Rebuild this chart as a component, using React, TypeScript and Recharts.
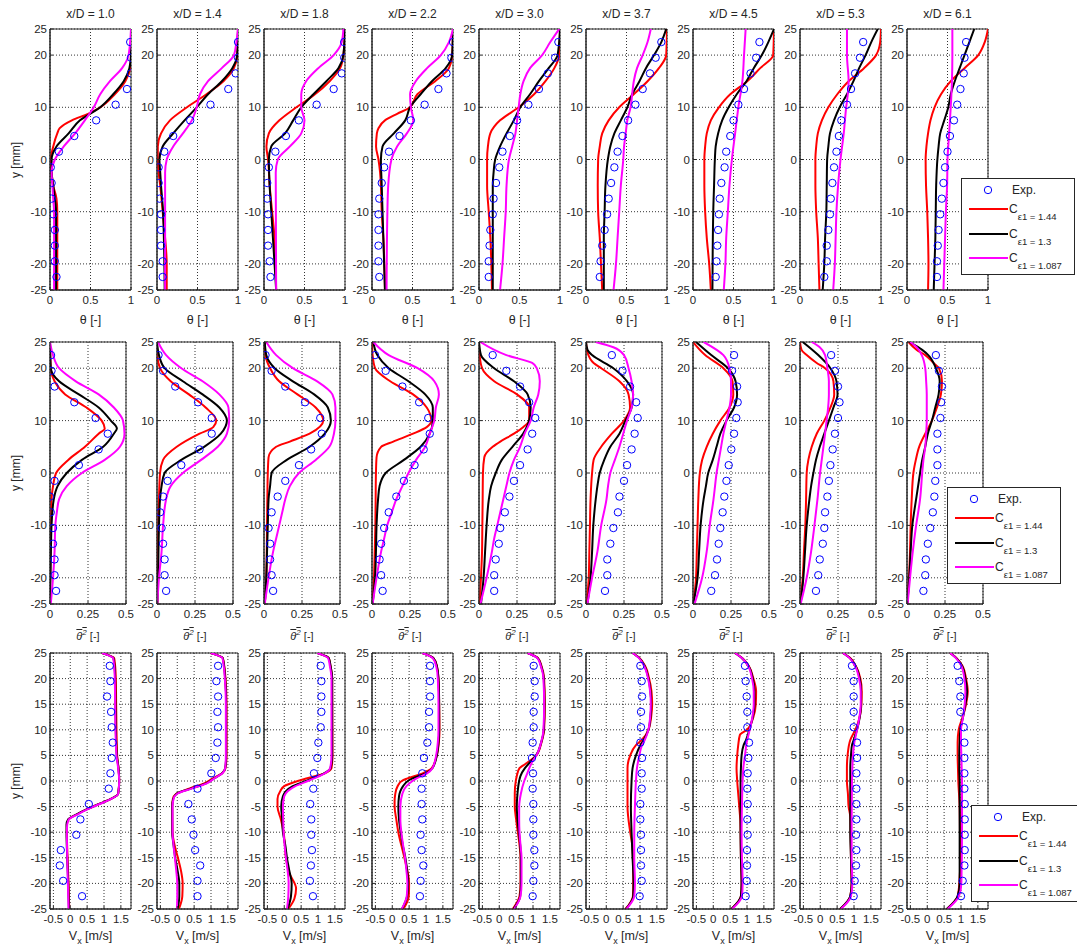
import React from "react";
import {
  ComposedChart,
  Line,
  Scatter,
  XAxis,
  YAxis,
  CartesianGrid,
  ReferenceArea,
} from "recharts";

// [y, x] knots, listed from top (y = 25 mm) to bottom (y = -25 mm)
type Knot = [number, number];

const STATIONS = ["1.0", "1.4", "1.8", "2.2", "3.0", "3.7", "4.5", "5.3", "6.1"];
const Y_EXP = [22.5, 19.5, 16.5, 13.5, 10.5, 7.5, 4.5, 1.5, -1.5, -4.5, -7.5, -10.5, -13.5, -16.5, -19.5, -22.5];
const Y_TICKS_COARSE = [-25, -20, -10, 0, 10, 20, 25];
const Y_TICKS_FINE = [-25, -20, -15, -10, -5, 0, 5, 10, 15, 20, 25];
const CASES = ["1.44", "1.3", "1.087"];
const CASE_COLORS = ["#ff0000", "#000000", "#ff00ff"];

// ---- row 1: mean temperature theta [-]
const THETA_EXP = [
  [0.99, 1.0, 1.0, 0.95, 0.81, 0.57, 0.3, 0.11, 0.01, 0.02, 0.02, 0.04, 0.06, 0.06, 0.06, 0.08],
  [1.0, 1.0, 0.97, 0.88, 0.66, 0.41, 0.2, 0.09, 0.02, 0.02, 0.03, 0.05, 0.05, 0.05, 0.07, 0.07],
  [0.99, 0.99, 0.96, 0.86, 0.65, 0.43, 0.27, 0.14, 0.06, 0.04, 0.04, 0.05, 0.05, 0.05, 0.07, 0.08],
  [1.0, 0.98, 0.92, 0.82, 0.65, 0.48, 0.34, 0.21, 0.15, 0.12, 0.09, 0.08, 0.08, 0.08, 0.08, 0.09],
  [0.98, 0.94, 0.85, 0.74, 0.61, 0.47, 0.38, 0.29, 0.25, 0.21, 0.18, 0.17, 0.14, 0.13, 0.12, 0.12],
  [0.93, 0.86, 0.79, 0.7, 0.61, 0.52, 0.45, 0.39, 0.35, 0.31, 0.28, 0.26, 0.23, 0.2, 0.18, 0.17],
  [0.82, 0.78, 0.71, 0.63, 0.56, 0.5, 0.46, 0.41, 0.39, 0.35, 0.33, 0.32, 0.31, 0.3, 0.29, 0.28],
  [0.78, 0.74, 0.68, 0.63, 0.58, 0.51, 0.48, 0.45, 0.42, 0.4, 0.38, 0.37, 0.35, 0.33, 0.33, 0.3],
  [0.73, 0.71, 0.7, 0.66, 0.62, 0.58, 0.53, 0.5, 0.47, 0.45, 0.43, 0.41, 0.39, 0.38, 0.37, 0.37],
];
const THETA_C144: Knot[][] = [
  [[25, 1], [20, 1], [17.5, 0.99], [15, 0.93], [12.5, 0.8], [10, 0.62], [8.75, 0.47], [7.5, 0.27], [6, 0.12], [5, 0.09], [2.5, 0.04], [0, 0.01], [-2.5, 0.02], [-5, 0.04], [-7.5, 0.08], [-10, 0.09], [-25, 0.09]],
  [[25, 1], [20, 0.99], [17.5, 0.95], [15, 0.82], [12.5, 0.61], [10, 0.37], [7.5, 0.16], [5, 0.05], [2.5, 0.01], [0, 0.01], [-2.5, 0.02], [-5, 0.04], [-10, 0.07], [-15, 0.1], [-20, 0.12], [-25, 0.12]],
  [[25, 1], [20, 0.98], [17.5, 0.94], [15, 0.81], [12.5, 0.63], [10, 0.4], [7.5, 0.19], [5, 0.06], [2.5, 0.03], [0, 0.05], [-5, 0.07], [-10, 0.1], [-15, 0.13], [-25, 0.15]],
  [[25, 1], [20, 0.99], [17.5, 0.95], [15, 0.78], [12.5, 0.56], [10, 0.47], [8.75, 0.31], [7.5, 0.16], [6, 0.08], [5, 0.06], [2.5, 0.05], [0, 0.08], [-2.5, 0.1], [-5, 0.11], [-10, 0.12], [-15, 0.14], [-25, 0.16]],
  [[25, 1], [20, 0.99], [17.5, 0.93], [15, 0.82], [12.5, 0.68], [10, 0.49], [7.5, 0.26], [5, 0.14], [2.5, 0.11], [0, 0.1], [-5, 0.1], [-10, 0.12], [-15, 0.14], [-25, 0.16]],
  [[25, 1], [20, 0.99], [17.5, 0.9], [15, 0.76], [12.5, 0.59], [10, 0.41], [7.5, 0.28], [5, 0.2], [2.5, 0.17], [0, 0.15], [-5, 0.145], [-10, 0.15], [-15, 0.17], [-20, 0.185], [-25, 0.2]],
  [[25, 1], [20, 0.99], [17.5, 0.83], [15, 0.67], [12.5, 0.46], [10, 0.32], [7.5, 0.22], [5, 0.17], [2.5, 0.15], [0, 0.14], [-5, 0.14], [-10, 0.15], [-15, 0.17], [-20, 0.2], [-25, 0.22]],
  [[25, 1], [22.5, 0.99], [20, 0.94], [17.5, 0.79], [15, 0.6], [12.5, 0.46], [10, 0.35], [7.5, 0.27], [5, 0.22], [2.5, 0.2], [0, 0.19], [-5, 0.19], [-10, 0.2], [-15, 0.22], [-20, 0.23], [-25, 0.24]],
  [[25, 1], [22.5, 0.96], [20, 0.88], [17.5, 0.71], [15, 0.54], [12.5, 0.42], [10, 0.34], [7.5, 0.29], [5, 0.26], [2.5, 0.24], [0, 0.23], [-5, 0.235], [-10, 0.25], [-15, 0.26], [-20, 0.265], [-25, 0.26]],
];
const THETA_C13: Knot[][] = [
  [[25, 1], [20, 1], [17.5, 0.98], [15, 0.91], [12.5, 0.78], [10, 0.62], [7.5, 0.37], [5, 0.23], [2.5, 0.08], [0, 0.02], [-2.5, 0.02], [-5, 0.04], [-7.5, 0.06], [-10, 0.075], [-25, 0.075]],
  [[25, 1], [20, 0.99], [17.5, 0.93], [15, 0.8], [12.5, 0.63], [10, 0.49], [7.5, 0.34], [5, 0.2], [2.5, 0.07], [0, 0.03], [-2.5, 0.04], [-5, 0.05], [-10, 0.075], [-25, 0.095]],
  [[25, 1], [20, 0.98], [17.5, 0.92], [15, 0.77], [12.5, 0.61], [10, 0.46], [7.5, 0.36], [5, 0.26], [2.5, 0.09], [0, 0.06], [-5, 0.07], [-10, 0.09], [-15, 0.11], [-25, 0.15]],
  [[25, 1], [20, 0.99], [17.5, 0.91], [15, 0.74], [12.5, 0.6], [10, 0.47], [7.5, 0.41], [5, 0.27], [2.5, 0.13], [0, 0.11], [-5, 0.12], [-10, 0.13], [-15, 0.14], [-25, 0.16]],
  [[25, 1], [20, 0.97], [17.5, 0.86], [15, 0.74], [12.5, 0.63], [10, 0.51], [7.5, 0.43], [5, 0.34], [2.5, 0.26], [0, 0.2], [-2.5, 0.18], [-5, 0.17], [-25, 0.17]],
  [[25, 0.99], [22.5, 0.93], [20, 0.84], [17.5, 0.74], [15, 0.66], [12.5, 0.57], [10, 0.51], [7.5, 0.43], [5, 0.35], [2.5, 0.3], [0, 0.27], [-5, 0.24], [-10, 0.23], [-15, 0.22], [-25, 0.22]],
  [[25, 1], [22.5, 0.93], [20, 0.85], [17.5, 0.75], [15, 0.66], [12.5, 0.54], [10, 0.44], [7.5, 0.36], [5, 0.31], [2.5, 0.28], [0, 0.27], [-5, 0.26], [-10, 0.25], [-25, 0.24]],
  [[25, 0.96], [22.5, 0.88], [20, 0.81], [17.5, 0.73], [15, 0.66], [12.5, 0.58], [10, 0.49], [7.5, 0.42], [5, 0.37], [2.5, 0.35], [0, 0.335], [-5, 0.33], [-10, 0.325], [-15, 0.31], [-20, 0.3], [-25, 0.28]],
  [[25, 0.83], [22.5, 0.77], [20, 0.71], [17.5, 0.65], [15, 0.59], [12.5, 0.54], [10, 0.51], [7.5, 0.46], [5, 0.41], [2.5, 0.39], [0, 0.375], [-5, 0.36], [-10, 0.355], [-15, 0.35], [-20, 0.34], [-25, 0.33]],
];
const THETA_C1087: Knot[][] = [
  [[25, 1], [20, 0.97], [17.5, 0.89], [15, 0.74], [12.5, 0.62], [10, 0.54], [7.5, 0.43], [5, 0.31], [2.5, 0.17], [0, 0.06], [-2.5, 0.02], [-5, 0.03], [-7.5, 0.04], [-10, 0.05], [-25, 0.05]],
  [[25, 1], [22.5, 0.98], [20, 0.95], [17.5, 0.8], [15, 0.63], [12.5, 0.53], [10, 0.49], [7.5, 0.43], [5, 0.32], [2.5, 0.2], [0, 0.12], [-2.5, 0.1], [-25, 0.1]],
  [[25, 0.98], [22.5, 0.96], [20, 0.86], [17.5, 0.67], [15, 0.52], [12.5, 0.46], [10, 0.46], [7.5, 0.5], [5, 0.46], [2.5, 0.32], [0, 0.17], [-2.5, 0.145], [-25, 0.15]],
  [[25, 1], [22.5, 0.95], [20, 0.85], [17.5, 0.68], [15, 0.54], [12.5, 0.47], [10, 0.48], [7.5, 0.51], [5, 0.43], [2.5, 0.31], [0, 0.24], [-5, 0.2], [-10, 0.19], [-25, 0.18]],
  [[25, 0.99], [22.5, 0.88], [20, 0.78], [17.5, 0.63], [15, 0.55], [12.5, 0.51], [10, 0.49], [7.5, 0.47], [5, 0.45], [2.5, 0.41], [0, 0.37], [-5, 0.34], [-10, 0.33], [-15, 0.31], [-20, 0.29], [-25, 0.26]],
  [[25, 0.8], [22.5, 0.76], [20, 0.7], [17.5, 0.63], [15, 0.59], [12.5, 0.57], [10, 0.55], [7.5, 0.51], [5, 0.49], [2.5, 0.47], [0, 0.46], [-5, 0.43], [-10, 0.41], [-15, 0.39], [-20, 0.37], [-25, 0.34]],
  [[25, 0.65], [20, 0.63], [15, 0.61], [10, 0.56], [5, 0.52], [0, 0.48], [-5, 0.45], [-10, 0.43], [-15, 0.41], [-20, 0.4], [-25, 0.38]],
  [[25, 0.58], [20, 0.58], [15, 0.6], [12.5, 0.59], [10, 0.57], [5, 0.54], [0, 0.5], [-5, 0.47], [-10, 0.45], [-15, 0.44], [-20, 0.43], [-25, 0.41]],
  [[25, 0.56], [20, 0.56], [15, 0.555], [10, 0.54], [5, 0.52], [0, 0.5], [-5, 0.495], [-10, 0.48], [-15, 0.47], [-20, 0.46], [-25, 0.45]],
];

// ---- row 2: temperature variance [-]
const VAR_EXP = [
  [0.007, 0.01, 0.03, 0.16, 0.3, 0.38, 0.32, 0.19, 0.03, 0.0, 0.005, 0.02, 0.02, 0.03, 0.03, 0.04],
  [0.01, 0.04, 0.12, 0.27, 0.36, 0.36, 0.28, 0.16, 0.07, 0.04, 0.02, 0.03, 0.04, 0.05, 0.05, 0.06],
  [0.01, 0.05, 0.14, 0.27, 0.37, 0.38, 0.31, 0.23, 0.14, 0.09, 0.05, 0.03, 0.04, 0.04, 0.05, 0.06],
  [0.02, 0.09, 0.2, 0.31, 0.37, 0.38, 0.34, 0.28, 0.21, 0.16, 0.11, 0.08, 0.06, 0.05, 0.06, 0.07],
  [0.09, 0.18, 0.27, 0.33, 0.37, 0.35, 0.32, 0.27, 0.23, 0.2, 0.17, 0.14, 0.13, 0.11, 0.1, 0.1],
  [0.17, 0.24, 0.29, 0.33, 0.34, 0.32, 0.3, 0.27, 0.25, 0.22, 0.21, 0.18, 0.16, 0.14, 0.14, 0.125],
  [0.27, 0.257, 0.29, 0.294, 0.285, 0.27, 0.252, 0.235, 0.22, 0.206, 0.195, 0.18, 0.169, 0.158, 0.145, 0.12],
  [0.205, 0.23, 0.25, 0.26, 0.25, 0.23, 0.215, 0.2, 0.19, 0.18, 0.165, 0.16, 0.15, 0.13, 0.12, 0.105],
  [0.19, 0.21, 0.23, 0.225, 0.22, 0.2, 0.2, 0.2, 0.186, 0.18, 0.17, 0.153, 0.137, 0.124, 0.12, 0.108],
];
const VAR_C144: Knot[][] = [
  [[25, 0], [20, 0.005], [17.5, 0.03], [15, 0.1], [12.5, 0.24], [10, 0.34], [8.5, 0.36], [7.5, 0.32], [5, 0.23], [2.5, 0.12], [0, 0.04], [-2.5, 0.02], [-5, 0.01], [-10, 0.007], [-15, 0.003], [-25, 0]],
  [[25, 0], [22.5, 0.002], [20, 0.02], [17.5, 0.09], [15, 0.21], [12.5, 0.32], [10, 0.39], [8.75, 0.37], [7.5, 0.28], [5, 0.13], [2.5, 0.04], [0, 0.02], [-5, 0.013], [-10, 0.009], [-15, 0.005], [-25, 0.002]],
  [[25, 0.005], [22.5, 0.01], [20, 0.04], [17.5, 0.1], [15, 0.22], [12.5, 0.34], [10, 0.39], [7.5, 0.3], [6, 0.17], [5, 0.08], [3, 0.03], [0, 0.025], [-5, 0.022], [-10, 0.02], [-20, 0.015], [-25, 0.005]],
  [[25, 0], [22.5, 0.004], [20, 0.02], [17.5, 0.12], [15, 0.27], [12.5, 0.36], [10, 0.39], [8.75, 0.36], [7.5, 0.27], [6, 0.14], [5, 0.06], [3, 0.03], [0, 0.026], [-5, 0.024], [-10, 0.022], [-15, 0.018], [-20, 0.013], [-25, 0.004]],
  [[25, 0], [22.5, 0.004], [20, 0.02], [17.5, 0.1], [15, 0.25], [12.5, 0.33], [10, 0.33], [8.75, 0.29], [7.5, 0.23], [6, 0.14], [5, 0.09], [3, 0.035], [0, 0.026], [-5, 0.024], [-10, 0.022], [-15, 0.02], [-20, 0.013], [-25, 0.004]],
  [[25, 0], [23, 0.01], [21, 0.05], [20, 0.1], [17.5, 0.22], [15, 0.28], [12.5, 0.29], [10, 0.25], [7.5, 0.17], [5, 0.1], [2.5, 0.05], [0, 0.04], [-5, 0.03], [-10, 0.026], [-15, 0.022], [-20, 0.018], [-25, 0.004]],
  [[25, 0], [22.5, 0.08], [20, 0.2], [17.5, 0.26], [15, 0.265], [12.5, 0.24], [10, 0.18], [7.5, 0.13], [5, 0.09], [2.5, 0.06], [0, 0.045], [-5, 0.035], [-10, 0.03], [-15, 0.025], [-20, 0.02], [-25, 0.002]],
  [[25, 0], [23.5, 0.01], [22.5, 0.044], [21, 0.11], [20, 0.165], [17.5, 0.22], [15, 0.225], [12.5, 0.2], [10, 0.16], [7.5, 0.11], [5, 0.077], [2.5, 0.055], [0, 0.044], [-5, 0.04], [-10, 0.035], [-15, 0.026], [-20, 0.018], [-25, 0.002]],
  [[25, 0.01], [23.5, 0.064], [22.5, 0.12], [21, 0.175], [20, 0.21], [17.5, 0.23], [15, 0.223], [12.5, 0.197], [10, 0.164], [7.5, 0.12], [5, 0.08], [2.5, 0.058], [0, 0.042], [-5, 0.031], [-10, 0.024], [-15, 0.02], [-20, 0.013], [-25, 0.002]],
];
const VAR_C13: Knot[][] = [
  [[25, 0], [20, 0.005], [17.5, 0.06], [15, 0.19], [12.5, 0.32], [10, 0.4], [8.5, 0.44], [7.5, 0.42], [5, 0.35], [2.5, 0.21], [0, 0.11], [-2.5, 0.05], [-5, 0.025], [-10, 0.01], [-15, 0.006], [-20, 0.003], [-25, 0]],
  [[25, 0], [22.5, 0.013], [20, 0.05], [17.5, 0.17], [15, 0.3], [12.5, 0.41], [10, 0.46], [7.5, 0.42], [5, 0.31], [2.5, 0.16], [0, 0.05], [-2.5, 0.03], [-5, 0.02], [-10, 0.013], [-20, 0.007], [-25, 0.002]],
  [[25, 0.005], [22.5, 0.015], [20, 0.07], [17.5, 0.19], [15, 0.33], [12.5, 0.42], [10, 0.44], [7.5, 0.4], [5, 0.3], [2.5, 0.15], [0, 0.05], [-2.5, 0.04], [-5, 0.03], [-10, 0.025], [-15, 0.02], [-20, 0.015], [-25, 0.005]],
  [[25, 0.009], [22.5, 0.035], [20, 0.11], [17.5, 0.24], [15, 0.35], [12.5, 0.4], [10, 0.4], [7.5, 0.38], [5, 0.32], [2.5, 0.21], [0, 0.09], [-2.5, 0.05], [-5, 0.04], [-10, 0.03], [-15, 0.026], [-20, 0.02], [-25, 0.004]],
  [[25, 0], [22.5, 0.013], [20, 0.1], [17.5, 0.23], [15, 0.32], [12.5, 0.34], [10, 0.33], [7.5, 0.29], [5, 0.22], [2.5, 0.15], [0, 0.11], [-2.5, 0.08], [-5, 0.065], [-10, 0.05], [-15, 0.04], [-20, 0.03], [-25, 0.013]],
  [[25, 0], [23.5, 0.01], [22.5, 0.04], [20, 0.18], [17.5, 0.27], [15, 0.31], [12.5, 0.3], [10, 0.26], [7.5, 0.22], [5, 0.16], [2.5, 0.12], [0, 0.09], [-2.5, 0.075], [-5, 0.064], [-10, 0.048], [-15, 0.04], [-20, 0.03], [-25, 0.009]],
  [[25, 0.02], [22.5, 0.12], [20, 0.23], [17.5, 0.28], [15, 0.29], [12.5, 0.27], [10, 0.22], [7.5, 0.18], [5, 0.155], [2.5, 0.13], [0, 0.1], [-2.5, 0.085], [-5, 0.07], [-10, 0.05], [-15, 0.04], [-20, 0.03], [-25, 0.002]],
  [[25, 0.018], [22.5, 0.12], [20, 0.2], [17.5, 0.24], [15, 0.247], [12.5, 0.22], [10, 0.19], [7.5, 0.16], [5, 0.13], [2.5, 0.105], [0, 0.088], [-2.5, 0.073], [-5, 0.062], [-10, 0.044], [-15, 0.033], [-20, 0.022], [-25, 0.004]],
  [[25, 0.015], [23.5, 0.1], [22.5, 0.14], [20, 0.19], [17.5, 0.215], [15, 0.208], [12.5, 0.186], [10, 0.164], [7.5, 0.137], [5, 0.12], [2.5, 0.1], [0, 0.086], [-5, 0.06], [-10, 0.035], [-15, 0.024], [-20, 0.015], [-25, 0.002]],
];
const VAR_C1087: Knot[][] = [
  [[25, 0], [22.5, 0.02], [20, 0.06], [17.5, 0.17], [15, 0.32], [12.5, 0.42], [10, 0.48], [7.5, 0.49], [5, 0.46], [2.5, 0.36], [0, 0.21], [-2.5, 0.11], [-5, 0.06], [-7.5, 0.045], [-10, 0.035], [-15, 0.03], [-20, 0.02], [-25, 0.005]],
  [[25, 0.007], [22.5, 0.06], [20, 0.16], [17.5, 0.3], [15, 0.41], [12.5, 0.47], [10, 0.475], [7.5, 0.46], [5, 0.4], [2.5, 0.29], [0, 0.17], [-2.5, 0.09], [-5, 0.06], [-10, 0.04], [-15, 0.03], [-20, 0.013], [-25, 0.002]],
  [[25, 0.015], [22.5, 0.08], [20, 0.19], [17.5, 0.35], [15, 0.45], [12.5, 0.47], [10, 0.47], [7.5, 0.46], [5, 0.43], [2.5, 0.34], [0, 0.23], [-2.5, 0.17], [-5, 0.14], [-7.5, 0.12], [-10, 0.1], [-12.5, 0.08], [-15, 0.06], [-20, 0.03], [-25, 0.005]],
  [[25, 0.009], [22.5, 0.11], [20, 0.3], [17.5, 0.41], [15, 0.44], [12.5, 0.42], [10, 0.41], [7.5, 0.38], [5, 0.35], [2.5, 0.29], [0, 0.24], [-2.5, 0.2], [-5, 0.16], [-7.5, 0.13], [-10, 0.1], [-12.5, 0.08], [-15, 0.06], [-20, 0.03], [-25, 0.004]],
  [[25, 0.009], [22.5, 0.18], [21, 0.35], [20, 0.38], [17.5, 0.4], [15, 0.39], [12.5, 0.36], [10, 0.34], [7.5, 0.3], [5, 0.27], [2.5, 0.23], [0, 0.2], [-2.5, 0.18], [-5, 0.16], [-7.5, 0.14], [-10, 0.12], [-12.5, 0.1], [-15, 0.085], [-20, 0.05], [-25, 0.009]],
  [[25, 0.064], [24, 0.18], [22.5, 0.25], [20, 0.28], [17.5, 0.3], [15, 0.31], [12.5, 0.3], [10, 0.27], [7.5, 0.245], [5, 0.22], [2.5, 0.19], [0, 0.16], [-2.5, 0.145], [-5, 0.135], [-10, 0.1], [-15, 0.075], [-20, 0.04], [-25, 0.009]],
  [[25, 0.07], [22.5, 0.2], [20, 0.24], [17.5, 0.25], [15, 0.25], [12.5, 0.24], [10, 0.22], [7.5, 0.2], [5, 0.185], [2.5, 0.17], [0, 0.155], [-2.5, 0.145], [-5, 0.135], [-10, 0.11], [-15, 0.09], [-20, 0.06], [-25, 0.01]],
  [[25, 0.077], [24, 0.13], [22.5, 0.165], [20, 0.18], [17.5, 0.19], [15, 0.19], [12.5, 0.185], [10, 0.175], [7.5, 0.165], [5, 0.154], [2.5, 0.143], [0, 0.132], [-5, 0.115], [-10, 0.095], [-15, 0.073], [-20, 0.044], [-25, 0.004]],
  [[25, 0.02], [24, 0.064], [22.5, 0.097], [20, 0.12], [17.5, 0.126], [15, 0.13], [12.5, 0.13], [10, 0.13], [7.5, 0.126], [5, 0.12], [2.5, 0.108], [0, 0.1], [-5, 0.086], [-10, 0.06], [-15, 0.038], [-20, 0.02], [-25, 0.004]],
];

// ---- row 3: axial velocity Vx [m/s]
const VX_EXP = [
  [1.17, 1.19, 1.09, 1.21, 1.23, 1.26, 1.23, 1.19, 1.14, 0.55, 0.3, 0.18, -0.28, -0.31, -0.21, 0.35],
  [1.21, 1.16, 1.21, 1.19, 1.21, 1.19, 1.14, 1.01, 0.6, 0.33, 0.43, 0.48, 0.53, 0.68, 0.6, 0.6],
  [1.08, 1.1, 1.1, 1.1, 1.08, 1.01, 0.98, 0.88, 0.86, 0.77, 0.8, 0.8, 0.82, 0.79, 0.76, 0.85],
  [1.12, 1.12, 1.12, 1.09, 1.09, 1.04, 0.94, 0.89, 0.87, 0.87, 0.89, 0.84, 0.87, 0.92, 0.84, 0.82],
  [1.02, 1.05, 1.05, 1.02, 1.02, 0.99, 0.97, 1.0, 0.99, 1.01, 1.01, 1.01, 1.04, 1.04, 1.01, 0.99],
  [1.01, 1.05, 1.06, 1.03, 1.03, 1.01, 1.06, 1.05, 1.05, 1.01, 1.01, 1.03, 1.03, 1.03, 1.05, 0.99],
  [0.94, 0.96, 0.99, 1.01, 1.01, 1.06, 1.04, 1.02, 1.01, 1.02, 1.01, 1.02, 1.0, 1.0, 0.99, 0.96],
  [0.94, 0.99, 0.99, 0.99, 0.99, 1.09, 1.09, 1.07, 1.07, 1.07, 1.07, 1.06, 1.07, 1.06, 1.02, 0.99],
  [0.9, 0.95, 0.98, 0.98, 1.08, 1.1, 1.1, 1.1, 1.1, 1.11, 1.11, 1.11, 1.11, 1.1, 1.05, 1.0],
];
const VX_C144: Knot[][] = [
  [[25, 0.94], [24, 1.3], [22.5, 1.33], [20, 1.35], [15, 1.36], [10, 1.37], [5, 1.39], [2.5, 1.43], [0, 1.45], [-2.5, 1.42], [-3.5, 1.2], [-4.5, 0.85], [-5.5, 0.5], [-6.5, 0.2], [-7.5, -0.05], [-8.5, -0.1], [-10, -0.1], [-15, -0.08], [-20, -0.05], [-25, -0.03]],
  [[25, 0.99], [24, 1.35], [20, 1.43], [15, 1.46], [5, 1.46], [2.5, 1.43], [1.5, 1.33], [0.5, 1.05], [-0.5, 0.78], [-1.5, 0.35], [-2.5, -0.03], [-3.5, -0.13], [-5, -0.15], [-10, -0.14], [-12.5, -0.08], [-15, 0.02], [-17.5, 0.11], [-20, 0.16], [-22.5, 0.15], [-25, 0.05]],
  [[25, 0.98], [24, 1.32], [22.5, 1.37], [20, 1.42], [5, 1.43], [2.5, 1.4], [1.5, 1.2], [0.5, 0.65], [0, 0.4], [-1, 0.0], [-2, -0.12], [-3.5, -0.2], [-5, -0.2], [-7.5, -0.1], [-10, -0.02], [-12.5, 0.02], [-15, 0.05], [-18, 0.15], [-21, 0.35], [-23, 0.3], [-25, 0.12]],
  [[25, 0.89], [24, 1.22], [22.5, 1.32], [20, 1.37], [15, 1.39], [10, 1.4], [7.5, 1.38], [5, 1.32], [2.5, 1.17], [1.5, 0.9], [0.5, 0.45], [0, 0.28], [-1, 0.16], [-2.5, 0.09], [-4, 0.07], [-5, 0.07], [-7.5, 0.12], [-10, 0.18], [-15, 0.36], [-20, 0.5], [-22.5, 0.49], [-25, 0.33]],
  [[25, 0.84], [24, 1.15], [22.5, 1.25], [20, 1.33], [15, 1.35], [10, 1.33], [7.5, 1.25], [5, 1.1], [4, 0.92], [3, 0.7], [2.5, 0.6], [1, 0.52], [0, 0.49], [-2.5, 0.46], [-5, 0.46], [-7.5, 0.5], [-10, 0.55], [-12.5, 0.6], [-15, 0.63], [-20, 0.63], [-22.5, 0.6], [-25, 0.4]],
  [[25, 0.78], [24, 0.99], [22.5, 1.15], [20, 1.27], [17.5, 1.34], [15, 1.36], [12.5, 1.33], [10, 1.25], [8, 1.05], [7, 0.88], [5, 0.71], [2.5, 0.63], [0, 0.63], [-5, 0.63], [-10, 0.71], [-12.5, 0.77], [-15, 0.79], [-20, 0.8], [-22.5, 0.79], [-25, 0.57]],
  [[25, 0.64], [24, 0.86], [22.5, 1.05], [20, 1.19], [17.5, 1.27], [15, 1.26], [12.5, 1.19], [10, 1.0], [9, 0.79], [7, 0.74], [5, 0.71], [2.5, 0.69], [0, 0.71], [-2.5, 0.74], [-5, 0.77], [-7.5, 0.8], [-10, 0.81], [-15, 0.82], [-20, 0.84], [-22.5, 0.82], [-25, 0.54]],
  [[25, 0.67], [24, 0.89], [22.5, 1.05], [20, 1.19], [17.5, 1.23], [15, 1.22], [12.5, 1.17], [10, 1.04], [8, 0.89], [5, 0.81], [2.5, 0.79], [0, 0.79], [-2.5, 0.82], [-5, 0.84], [-7, 0.89], [-10, 0.9], [-15, 0.91], [-20, 0.93], [-22.5, 0.89], [-25, 0.59]],
  [[25, 0.68], [24, 0.87], [22.5, 1.04], [20, 1.15], [17.5, 1.2], [15, 1.15], [12.5, 1.05], [10, 0.93], [7.5, 0.9], [5, 0.9], [2.5, 0.91], [0, 0.92], [-5, 0.96], [-10, 0.97], [-15, 0.98], [-20, 0.95], [-22.5, 0.9], [-25, 0.58]],
];
const VX_C13: Knot[][] = [
  [[25, 0.94], [24, 1.28], [22.5, 1.31], [20, 1.33], [15, 1.34], [10, 1.35], [5, 1.38], [2.5, 1.43], [0, 1.45], [-2.5, 1.42], [-3.5, 1.2], [-4.5, 0.85], [-5.5, 0.5], [-6.5, 0.19], [-7.5, -0.06], [-8.5, -0.11], [-10, -0.11], [-15, -0.09], [-20, -0.06], [-25, -0.04]],
  [[25, 0.99], [24, 1.35], [20, 1.42], [15, 1.45], [5, 1.45], [2.5, 1.42], [1.5, 1.33], [0.5, 1.09], [-0.5, 0.84], [-1.5, 0.4], [-2.5, -0.02], [-3.5, -0.12], [-5, -0.15], [-10, -0.15], [-12.5, -0.11], [-15, -0.06], [-17.5, 0.01], [-20, 0.06], [-22.5, 0.06], [-25, 0.01]],
  [[25, 0.98], [24, 1.32], [22.5, 1.37], [20, 1.42], [5, 1.42], [2.5, 1.37], [1.5, 1.18], [0.5, 0.83], [0, 0.64], [-1, 0.25], [-2, 0.05], [-3, -0.04], [-5, -0.09], [-7.5, -0.06], [-10, -0.04], [-12.5, 0.03], [-15, 0.08], [-17.5, 0.15], [-20, 0.22], [-22.5, 0.2], [-25, 0.1]],
  [[25, 0.89], [24, 1.22], [22.5, 1.32], [20, 1.37], [15, 1.39], [10, 1.39], [7.5, 1.37], [5, 1.32], [2.5, 1.19], [1.5, 0.99], [0.5, 0.6], [0, 0.46], [-1, 0.32], [-2, 0.24], [-3, 0.2], [-5, 0.18], [-7.5, 0.2], [-10, 0.25], [-12.5, 0.31], [-15, 0.39], [-17.5, 0.44], [-20, 0.47], [-22.5, 0.44], [-25, 0.29]],
  [[25, 0.84], [24, 1.14], [22.5, 1.24], [20, 1.32], [15, 1.34], [10, 1.32], [7.5, 1.24], [5, 1.09], [4, 0.96], [2.5, 0.76], [1, 0.63], [0, 0.59], [-2.5, 0.54], [-5, 0.52], [-7.5, 0.54], [-10, 0.58], [-12.5, 0.62], [-15, 0.64], [-20, 0.64], [-22.5, 0.62], [-25, 0.42]],
  [[25, 0.78], [24, 0.98], [22.5, 1.13], [20, 1.25], [17.5, 1.31], [15, 1.33], [12.5, 1.31], [10, 1.25], [8, 1.11], [7, 1.01], [5, 0.88], [2.5, 0.78], [0, 0.75], [-5, 0.73], [-10, 0.75], [-15, 0.78], [-20, 0.81], [-22.5, 0.8], [-25, 0.58]],
  [[25, 0.64], [24, 0.85], [22.5, 1.04], [20, 1.17], [17.5, 1.22], [15, 1.22], [12.5, 1.17], [10, 1.07], [8, 0.97], [7, 0.9], [5, 0.84], [2.5, 0.82], [0, 0.81], [-5, 0.81], [-10, 0.81], [-15, 0.82], [-20, 0.84], [-22.5, 0.82], [-25, 0.54]],
  [[25, 0.67], [24, 0.88], [22.5, 1.04], [20, 1.17], [17.5, 1.21], [15, 1.21], [12.5, 1.17], [10, 1.09], [8, 0.99], [7, 0.94], [5, 0.91], [2.5, 0.89], [0, 0.89], [-5, 0.89], [-10, 0.89], [-15, 0.91], [-20, 0.93], [-22.5, 0.89], [-25, 0.59]],
  [[25, 0.68], [24, 0.86], [22.5, 1.03], [20, 1.13], [17.5, 1.18], [15, 1.13], [12.5, 1.06], [11, 1.01], [10, 0.98], [7.5, 0.96], [5, 0.95], [2.5, 0.95], [0, 0.96], [-5, 0.96], [-10, 0.96], [-15, 0.96], [-20, 0.96], [-22.5, 0.9], [-25, 0.58]],
];
const VX_C1087: Knot[][] = [
  [[25, 0.94], [24, 1.27], [22.5, 1.3], [20, 1.32], [15, 1.33], [10, 1.34], [5, 1.37], [2.5, 1.42], [0, 1.45], [-2.5, 1.42], [-3.5, 1.21], [-4.5, 0.87], [-5.5, 0.52], [-6.5, 0.22], [-7.5, -0.04], [-8.5, -0.09], [-10, -0.1], [-15, -0.09], [-20, -0.07], [-25, -0.05]],
  [[25, 0.99], [24, 1.34], [20, 1.41], [15, 1.44], [5, 1.44], [2.5, 1.42], [1.5, 1.34], [0.5, 1.1], [-0.5, 0.86], [-1.5, 0.42], [-2.5, 0.0], [-3.5, -0.11], [-5, -0.14], [-10, -0.14], [-12.5, -0.11], [-15, -0.07], [-17.5, -0.03], [-20, 0.0], [-22.5, 0.0], [-25, -0.01]],
  [[25, 0.98], [24, 1.3], [22.5, 1.35], [20, 1.4], [5, 1.4], [2.5, 1.36], [1.5, 1.2], [0.5, 0.88], [0, 0.7], [-1, 0.33], [-2, 0.1], [-3, 0.0], [-5, -0.04], [-7.5, -0.03], [-10, -0.02], [-12.5, 0.01], [-15, 0.05], [-17.5, 0.1], [-20, 0.13], [-22.5, 0.12], [-25, 0.08]],
  [[25, 0.89], [24, 1.2], [22.5, 1.3], [20, 1.35], [15, 1.37], [10, 1.37], [7.5, 1.35], [5, 1.3], [2.5, 1.19], [1.5, 1.03], [0.5, 0.72], [0, 0.6], [-1, 0.42], [-2.5, 0.3], [-5, 0.24], [-7.5, 0.24], [-10, 0.27], [-12.5, 0.32], [-15, 0.38], [-17.5, 0.42], [-20, 0.45], [-22.5, 0.43], [-25, 0.28]],
  [[25, 0.84], [24, 1.13], [22.5, 1.23], [20, 1.31], [15, 1.33], [10, 1.31], [7.5, 1.24], [5, 1.1], [4, 1.0], [2.5, 0.89], [1, 0.8], [0, 0.74], [-2.5, 0.64], [-5, 0.59], [-7.5, 0.59], [-10, 0.6], [-12.5, 0.63], [-15, 0.66], [-20, 0.66], [-22.5, 0.63], [-25, 0.44]],
  [[25, 0.78], [24, 0.97], [22.5, 1.12], [20, 1.24], [17.5, 1.3], [15, 1.32], [12.5, 1.3], [10, 1.25], [8, 1.14], [7, 1.06], [5, 0.98], [2.5, 0.91], [0, 0.88], [-5, 0.85], [-10, 0.83], [-15, 0.83], [-20, 0.85], [-22.5, 0.83], [-25, 0.6]],
  [[25, 0.64], [24, 0.85], [22.5, 1.03], [20, 1.15], [17.5, 1.2], [15, 1.2], [12.5, 1.16], [10, 1.08], [7.5, 0.99], [5, 0.94], [2.5, 0.89], [0, 0.87], [-5, 0.85], [-10, 0.84], [-15, 0.85], [-20, 0.87], [-22.5, 0.85], [-25, 0.56]],
  [[25, 0.67], [24, 0.87], [22.5, 1.03], [20, 1.15], [17.5, 1.2], [15, 1.2], [12.5, 1.16], [10, 1.09], [7.5, 1.01], [5, 0.97], [2.5, 0.95], [0, 0.94], [-10, 0.93], [-15, 0.93], [-20, 0.95], [-22.5, 0.91], [-25, 0.61]],
  [[25, 0.68], [24, 0.85], [22.5, 1.01], [20, 1.1], [17.5, 1.13], [15, 1.11], [12.5, 1.06], [10, 1.0], [7.5, 1.0], [5, 1.01], [2.5, 1.02], [0, 1.03], [-10, 1.03], [-20, 1.01], [-22.5, 0.94], [-25, 0.6]],
];

// ---- layout
const FONT = "'Liberation Sans', Arial, Helvetica, sans-serif";
const TEXT = "#262626";
const PLOT_LEFTS = [50, 157, 264, 372, 479, 586, 693, 800, 907];
const YW = 32;
const MT = 6;
const MR = 12;
const XH = 22;

const ROWS = [
  { top: 29, h: 261, w: 81, xDomain: [0, 1], xTicks: [0, 0.5, 1], yTicks: Y_TICKS_COARSE, exp: THETA_EXP, series: [THETA_C144, THETA_C13, THETA_C1087], labelY: 320, legend: { x: 961, y: 178 } },
  { top: 342, h: 262, w: 76, xDomain: [0, 0.5], xTicks: [0, 0.25, 0.5], yTicks: Y_TICKS_COARSE, exp: VAR_EXP, series: [VAR_C144, VAR_C13, VAR_C1087], labelY: 633, legend: { x: 947, y: 487 } },
  { top: 653, h: 256, w: 81, xDomain: [-0.6, 1.8], xTicks: [-0.5, 0, 0.5, 1, 1.5], yTicks: Y_TICKS_FINE, exp: VX_EXP, series: [VX_C144, VX_C13, VX_C1087], labelY: 936, legend: { x: 971, y: 805 } },
];

const tickStyle = { fontSize: 11.5, fill: TEXT, fontFamily: FONT };

const toPoints = (knots: Knot[]) => knots.map(([y, x]) => ({ y, x }));

const OpenCircle = (props: any) =>
  props.cx == null ? null : (
    <circle cx={props.cx} cy={props.cy} r={3.7} fill="none" stroke="#0000ff" strokeWidth={1} />
  );

function Panel({ row, col }: { row: number; col: number }) {
  const cfg = ROWS[row];
  const left = PLOT_LEFTS[col];
  const expData = Y_EXP.map((y, k) => ({ y, x: cfg.exp[col][k] }));
  return (
    <div style={{ position: "absolute", left: left - YW, top: cfg.top - MT }}>
      <ComposedChart
        width={YW + cfg.w + MR}
        height={MT + cfg.h + XH}
        layout="vertical"
        margin={{ top: MT, right: MR, bottom: 0, left: 0 }}
      >
        <CartesianGrid stroke="#000" strokeDasharray="1 2" strokeWidth={0.8} />
        <XAxis
          type="number"
          dataKey="x"
          domain={cfg.xDomain}
          ticks={cfg.xTicks}
          interval={0}
          allowDataOverflow
          height={XH}
          tickSize={-3}
          tickMargin={9}
          stroke={TEXT}
          tick={tickStyle}
        />
        <YAxis
          type="number"
          dataKey="y"
          domain={[-25, 25]}
          ticks={cfg.yTicks}
          interval={0}
          allowDataOverflow
          reversed
          width={YW}
          tickSize={-3}
          tickMargin={6}
          stroke={TEXT}
          tick={tickStyle}
        />
        <ReferenceArea
          x1={cfg.xDomain[0]}
          x2={cfg.xDomain[1]}
          y1={-25}
          y2={25}
          fill="none"
          stroke={TEXT}
          strokeWidth={1}
        />
        <Scatter data={expData} shape={OpenCircle} isAnimationActive={false} />
        {cfg.series.map((s, k) => (
          <Line
            key={CASES[k]}
            data={toPoints(s[col])}
            dataKey="x"
            type="monotone"
            stroke={CASE_COLORS[k]}
            strokeWidth={2}
            dot={false}
            isAnimationActive={false}
          />
        ))}
      </ComposedChart>
    </div>
  );
}

function LegendBox({ x, y }: { x: number; y: number }) {
  const rowsY = [31, 56, 80];
  return (
    <svg
      width={114}
      height={97}
      style={{ position: "absolute", left: x, top: y, fontFamily: FONT }}
    >
      <rect x={0.5} y={0.5} width={113} height={96} fill="#fff" stroke={TEXT} />
      <circle cx={27} cy={12} r={3.7} fill="none" stroke="#0000ff" />
      <text x={51} y={16} fontSize={12} fill={TEXT}>Exp.</text>
      {CASES.map((c, k) => (
        <g key={c}>
          <line x1={8} x2={47} y1={rowsY[k]} y2={rowsY[k]} stroke={CASE_COLORS[k]} strokeWidth={2} />
          <text x={48} y={rowsY[k] + 3.5} fontSize={12} fill={TEXT}>
            C<tspan fontSize={9.5} dy={7}>ε1 = {c}</tspan>
          </text>
        </g>
      ))}
    </svg>
  );
}

const xLabels = [
  <span>θ [-]</span>,
  <span style={{ fontSize: 11 }}>
    <span style={{ textDecoration: "overline", fontStyle: "italic" }}>
      θ<sup style={{ fontSize: 8 }}>2</sup>
    </span>{" "}
    [-]
  </span>,
  <span>
    V<sub style={{ fontSize: 9 }}>x</sub> [m/s]
  </span>,
];

export default function App() {
  return (
    <div
      style={{
        position: "absolute",
        left: 0,
        top: 0,
        width: 1077,
        height: 946,
        overflow: "hidden",
        background: "#fff",
        fontFamily: FONT,
        color: TEXT,
      }}
    >
      {STATIONS.map((s, col) => (
        <div
          key={"t" + s}
          style={{
            position: "absolute",
            left: PLOT_LEFTS[col] - 20,
            width: 121,
            top: 7,
            textAlign: "center",
            fontSize: 12,
            lineHeight: "14px",
          }}
        >
          x/D = {s}
        </div>
      ))}
      {ROWS.map((cfg, row) => (
        <React.Fragment key={"r" + row}>
          <div
            style={{
              position: "absolute",
              left: 16 - 40,
              top: cfg.top + cfg.h / 2 - 7,
              width: 80,
              textAlign: "center",
              fontSize: 12,
              lineHeight: "14px",
              transform: "rotate(-90deg)",
            }}
          >
            y [mm]
          </div>
          {STATIONS.map((s, col) => (
            <Panel key={s} row={row} col={col} />
          ))}
          {STATIONS.map((s, col) => (
            <div
              key={"xl" + s}
              style={{
                position: "absolute",
                left: PLOT_LEFTS[col] + cfg.w / 2 - 40,
                width: 80,
                top: cfg.labelY - 8,
                textAlign: "center",
                fontSize: 12.5,
                lineHeight: "16px",
                whiteSpace: "nowrap",
              }}
            >
              {xLabels[row]}
            </div>
          ))}
          <LegendBox x={cfg.legend.x} y={cfg.legend.y} />
        </React.Fragment>
      ))}
    </div>
  );
}
